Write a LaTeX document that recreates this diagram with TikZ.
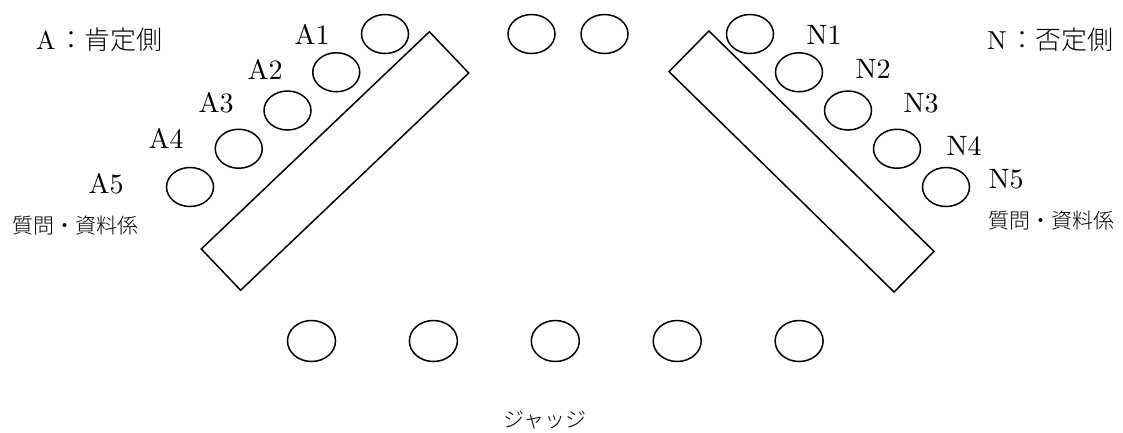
\documentclass[tikz,border=0pt]{standalone}
\usepackage{fontspec}
\setmainfont{lmroman10-regular.otf}
\newfontfamily\jpfont{Noto Sans CJK JP Light}
\usetikzlibrary{shapes}
\usetikzlibrary{positioning}
\tikzstyle{seat}=[draw, ellipse, line width=1.5pt, minimum width=47pt,
minimum height=39pt, inner sep=0pt]
\tikzstyle{judge}=[seat, minimum width=48pt, minimum height=41pt]
\tikzstyle{desk}=[draw, rectangle, line width=1.5pt, minimum width=315pt,
minimum height=57pt, inner sep=0pt]
\tikzstyle{num}=[font=\fontsize{28}{30}\selectfont, inner sep=0pt]
\tikzstyle{side}=[font=\fontsize{26}{28}\selectfont, inner sep=0pt, anchor=west]
\tikzstyle{role}=[font=\jpfont\fontsize{21}{23}\selectfont, inner sep=0pt]

\begin{document}
\begin{tikzpicture}[x=1pt, y=-1pt]
    \useasboundingbox (0,0) rectangle (1123,432);

    % desks
    \node[desk, rotate=43.6] (deskA) at (335,161) {};
    \node[desk, rotate=-44.4] (deskN) at (801.5,161.5) {};

    % affirmative
    \node[side] (titleA) at (36,40) {A\hspace{3pt}{\jpfont ：肯定側}};
    \foreach \i/\lx/\ly in {1/312/34, 2/265/69, 3/216/103, 4/166/138, 5/106/184} {
        \node[seat] (A\i) at ({385-48.75*(\i-1)}, {34+38.25*(\i-1)}) {};
        \node[num] (lA\i) at (\lx,\ly) {A\i};
    }
    \node[role, anchor=west] (roleA) at (12,226) {質問・資料係};

    % negative
    \node[side] (titleN) at (987,40) {N\hspace{3pt}{\jpfont ：否定側}};
    \foreach \i/\lx/\ly in {1/824/35, 2/873/69, 3/921/103, 4/964/146, 5/1006/179} {
        \node[seat] (N\i) at ({750+49*(\i-1)}, {34+38.25*(\i-1)}) {};
        \node[num] (lN\i) at (\lx,\ly) {N\i};
    }
    \node[role, anchor=west] (roleN) at (988,221) {質問・資料係};

    \node[seat] (M1) at (531.5,34) {};
    \node[seat] (M2) at (604.5,34) {};

    % judges
    \foreach \i in {1,...,5}
        \node[judge] (J\i) at ({311.5+121.9*(\i-1)}, 341) {};
    \node[role] (judgeLabel) at (545,420) {ジャッジ};

\end{tikzpicture}
\end{document}
